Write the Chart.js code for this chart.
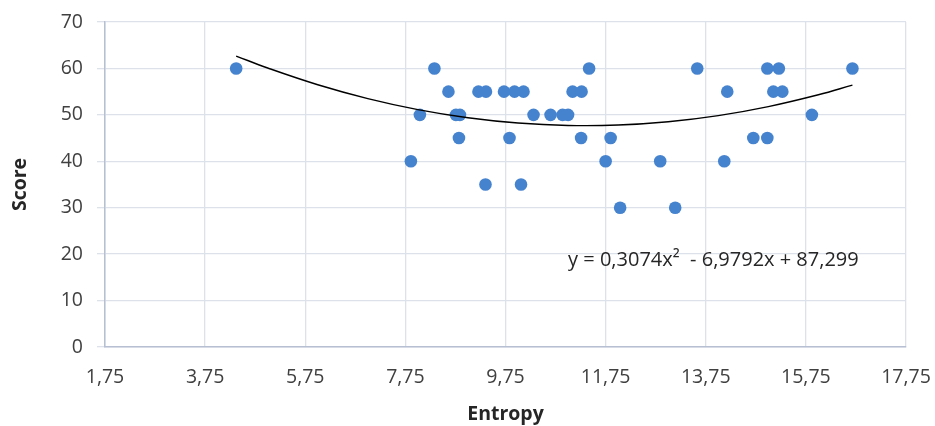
<!DOCTYPE html>
<html>
<head>
<meta charset="utf-8">
<script src="https://cdn.jsdelivr.net/npm/chart.js@4"></script>
<style>
  html, body { margin: 0; padding: 0; background: #fff; }
  #wrap { width: 935px; height: 426px; }
</style>
</head>
<body>
<div id="wrap"><canvas id="graph" width="935" height="426"></canvas></div>
<script>
// Entropy / Score points
const entropy = [4.37, 8.33, 11.42, 13.58, 14.98, 15.21, 16.68,
  8.61, 9.21, 9.36, 9.72, 9.93, 10.11, 11.09, 11.27, 14.18, 15.10, 15.28,
  8.04, 8.76, 8.84, 10.31, 10.65, 10.89, 11.00, 15.87,
  8.82, 9.83, 11.26, 11.85, 14.70, 14.98,
  7.86, 11.75, 12.84, 14.12,
  9.35, 10.06,
  12.04, 13.14];
const score = [60, 60, 60, 60, 60, 60, 60,
  55, 55, 55, 55, 55, 55, 55, 55, 55, 55, 55,
  50, 50, 50, 50, 50, 50, 50, 50,
  45, 45, 45, 45, 45, 45,
  40, 40, 40, 40,
  35, 35,
  30, 30];

// polynomial trend line, sampled along the curve
const trendX = [4.37, 5, 6, 7, 8, 9, 10, 11, 12, 13, 14, 15, 16, 16.68];
const trendY = [62.67, 60.09, 56.49, 53.51, 51.14, 49.39, 48.25, 47.72, 47.81, 48.52, 49.84, 51.78, 54.33, 56.41];
const trendLabel = 'y = 0,3074x²  - 6,9792x + 87,299';

const xTicks = [1.75, 3.75, 5.75, 7.75, 9.75, 11.75, 13.75, 15.75, 17.75];
const yTicks = [0, 10, 20, 30, 40, 50, 60, 70];

const FONT = '"Open Sans", sans-serif';

const equation = {
  id: 'equation',
  afterDatasetsDraw(chart) {
    const c = chart.ctx;
    const x = chart.scales.x.getPixelForValue(11.0);
    const y = chart.scales.y.getPixelForValue(18.7);
    c.save();
    c.font = '20px ' + FONT;
    c.fillStyle = '#262626';
    c.textBaseline = 'middle';
    c.textAlign = 'left';
    c.fillText(trendLabel, x, y);
    c.restore();
  }
};

const ctx = document.getElementById('graph').getContext('2d');

const myChart = new Chart(ctx, {
  type: 'scatter',
  data: {
    datasets: [{
      label: 'Score',
      data: entropy.map((e, i) => ({ x: e, y: score[i] })),
      backgroundColor: '#4683cf',
      borderColor: '#4683cf',
      pointRadius: 6.3,
      pointBorderWidth: 0,
      order: 2
    }, {
      type: 'line',
      label: 'Trend',
      data: trendX.map((e, i) => ({ x: e, y: trendY[i] })),
      borderColor: '#000',
      borderWidth: 1.4,
      pointRadius: 0,
      tension: 0.4,
      fill: false,
      order: 1
    }]
  },
  options: {
    responsive: false,
    animation: false,
    layout: { padding: { left: 0, right: 29, top: 22, bottom: 0 } },
    plugins: { legend: { display: false }, tooltip: { enabled: false } },
    scales: {
      x: {
        type: 'linear',
        min: 1.75,
        max: 17.75,
        afterBuildTicks: s => { s.ticks = xTicks.map(v => ({ value: v })); },
        afterFit: s => { s.height = 79; s.paddingLeft = 0; s.paddingRight = 0; },
        ticks: {
          callback: v => v.toFixed(2).replace('.', ','),
          font: { family: FONT, size: 19.5 },
          color: '#404040',
          padding: 19,
          maxRotation: 0
        },
        grid: { color: '#dde1ea', lineWidth: 1.3, drawTicks: false },
        border: { color: '#b6c0d2', width: 1.5 },
        title: {
          display: true,
          text: 'Entropy',
          font: { family: FONT, size: 19.5, weight: 'bold' },
          color: '#262626',
          padding: { top: 7, bottom: 0 }
        }
      },
      y: {
        min: 0,
        max: 70,
        afterBuildTicks: s => { s.ticks = yTicks.map(v => ({ value: v })); },
        afterFit: s => { s.width = 105; s.paddingTop = 0; s.paddingBottom = 0; },
        ticks: {
          font: { family: FONT, size: 19.5 },
          color: '#404040',
          padding: 14
        },
        grid: { color: '#dde1ea', lineWidth: 1.3, tickLength: 8 },
        border: { color: '#b6c0d2', width: 1.5 },
        title: {
          display: true,
          text: 'Score',
          font: { family: FONT, size: 19.5, weight: 'bold' },
          color: '#262626',
          padding: { top: 9, bottom: 0 }
        }
      }
    }
  },
  plugins: [equation]
});
</script>
</body>
</html>
